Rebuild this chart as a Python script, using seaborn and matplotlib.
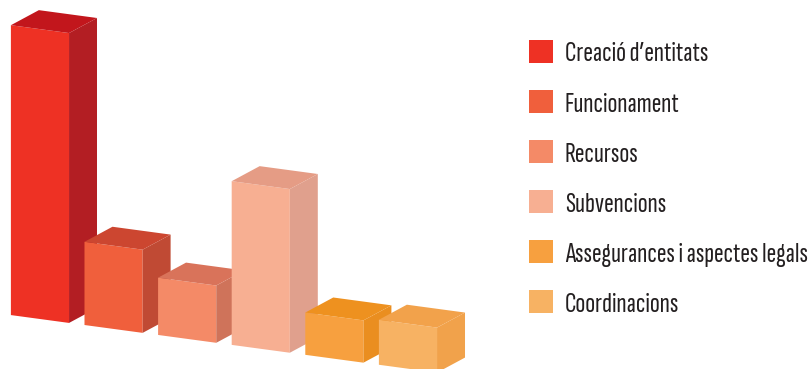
import numpy as np
import matplotlib
matplotlib.use("Agg")
import matplotlib.pyplot as plt
import seaborn as sns
from matplotlib.patches import Polygon, Patch
from matplotlib.transforms import Affine2D

# Dades (percentatges estimats a partir de l'alçada de les barres)
categories = ["Creació d’entitats", "Funcionament", "Recursos", "Subvencions",
              "Assegurances i aspectes legals", "Coordinacions"]
values = [42.5, 12.2, 8.4, 24.0, 6.2, 6.6]

front_colors = ["#EE3124", "#F05F3C", "#F48A67", "#F7AF92", "#F7A03F", "#F7B263"]
side_colors = ["#B31E23", "#C04A34", "#CF735A", "#E0A08D", "#EA8E20", "#F1A24B"]
top_colors = ["#C2161C", "#CC4630", "#D9735A", "#E59C85", "#EE911F", "#F2A24B"]

# Geometria del pseudo-3D
SHEAR = 1.457      # caiguda del terra (unitats de valor per barra)
DEPTH_X = 0.38
DEPTH_Y = 2.76

FONT = ["Sofia Sans Extra Condensed", "Barlow Condensed", "DejaVu Sans"]

sns.set_theme(style="white")
plt.rcParams['font.family'] = FONT

fig = plt.figure(figsize=(8.11, 3.69), dpi=100)
ax = fig.add_axes([0, 0, 1, 1])

sns.barplot(x=list(range(len(values))), y=values, hue=list(range(len(values))),
            palette=front_colors, width=0.79, legend=False, saturation=1, ax=ax)

shear = Affine2D(np.array([[1.0, 0.0, 0.0], [-SHEAR, 1.0, 0.0], [0.0, 0.0, 1.0]]))
trans = shear + ax.transData

for i, p in enumerate(ax.patches):
    x0 = p.get_x()
    x1 = x0 + p.get_width()
    h = p.get_height()
    p.set_transform(trans)
    p.set_edgecolor("none")
    p.set_zorder(2 + i)
    side = Polygon([(x1, 0), (x1 + DEPTH_X, DEPTH_Y), (x1 + DEPTH_X, h + DEPTH_Y), (x1, h)],
                   closed=True, facecolor=side_colors[i], edgecolor="none",
                   transform=trans, zorder=2 + i)
    top = Polygon([(x0, h), (x0 + DEPTH_X, h + DEPTH_Y), (x1 + DEPTH_X, h + DEPTH_Y), (x1, h)],
                  closed=True, facecolor=top_colors[i], edgecolor="none",
                  transform=trans, zorder=2 + i)
    ax.add_patch(side)
    ax.add_patch(top)

ax.set_xlim(-0.543, 10.476)
ax.set_ylim(-7.33, 46.77)
ax.axis("off")

# mida de lletra ajustada perquè l'etiqueta més llarga faci ~243 px
renderer = fig.canvas.get_renderer()
probe = fig.text(0, 0, max(categories, key=len), fontsize=20, family=FONT, weight=600)
w = probe.get_window_extent(renderer).width
probe.remove()
fsize = min(22, 20 * 243 / w)

handles = [Patch(facecolor=c, edgecolor="none") for c in front_colors]
px = fsize * 100 / 72
fig.legend(handles, categories, loc="upper left", bbox_to_anchor=(529 / 811, 1 - 40 / 369),
           frameon=False, prop={"family": FONT, "size": fsize, "weight": 600},
           handlelength=24 / px, handleheight=24 / px,
           handletextpad=12 / px, labelspacing=23.6 / px, borderpad=0, borderaxespad=0,
           labelcolor="#231F20")

fig.savefig("out.png", dpi=100)
